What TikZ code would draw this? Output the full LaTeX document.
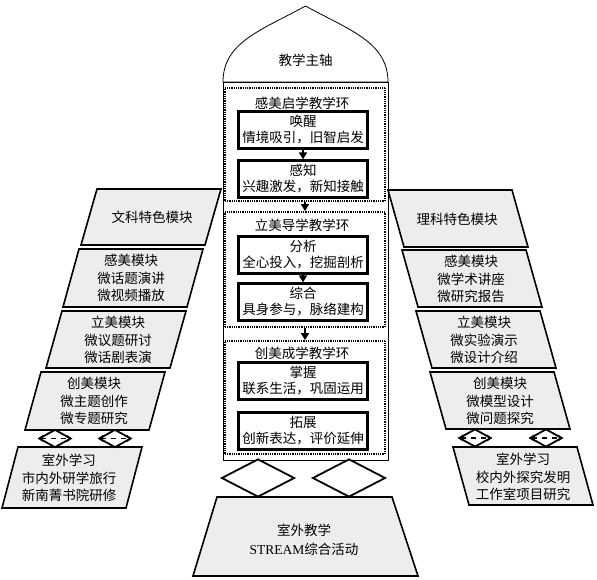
\documentclass[tikz,border=0pt]{standalone}
\usepackage{fontspec}
\setmainfont{Liberation Serif}
\newfontfamily\cjk{Noto Sans CJK SC}
\usetikzlibrary{shapes.geometric,arrows.meta}
\newcommand{\paraL}[3]{\draw[modbox] ({#1-54},#2) -- ({#1+70},#2) -- ({#1+54},#3) -- ({#1-70},#3) -- cycle;}
\newcommand{\paraR}[3]{\draw[modbox] ({#1-70},#2) -- ({#1+54},#2) -- ({#1+70},#3) -- ({#1-54},#3) -- cycle;}
\begin{document}
\begin{tikzpicture}[x=1pt,y=-1pt,
  txt/.style={font=\cjk\fontsize{13.5}{17.5}\selectfont, align=center, inner sep=0pt},
  ctxt/.style={font=\cjk\fontsize{13.5}{16}\selectfont, align=center, inner sep=0pt},
  modbox/.style={draw, line width=1.6pt, fill=black!7, line join=miter},
  cbox/.style={draw, line width=2.2pt, minimum width=129, minimum height=37, inner sep=0pt, ctxt},
  ring/.style={draw, line width=1.8pt, dash pattern=on 0.9pt off 0.9pt, minimum width=160, inner sep=0pt},
  arr/.style={-{Triangle[length=7pt,width=8pt]}, line width=1.6pt},
  dmd/.style={diamond, draw, line width=1.8pt, inner sep=0pt, fill=white},
  darr/.style={{Stealth[length=5pt,width=7pt]}-{Stealth[length=5pt,width=7pt]}, line width=1.5pt, dash pattern=on 5pt off 5pt}
]
\useasboundingbox (0,0) rectangle (597,580);
% tower
\node[draw, line width=0.8pt, minimum width=165, minimum height=378, inner sep=0pt] (tower) at (305.5,271) {};
\draw[line width=0.8pt, fill=white] (223,82) .. controls (223,42) and (262,30) .. (305.5,6) .. controls (349,30) and (388,42) .. (388,82) -- cycle;
\node[txt] (axis) at (305.5,60) {教学主轴};
% rings
\node[ring, minimum height=113] (r1) at (305,144.5) {};
\node[ring, minimum height=115] (r2) at (305,269.5) {};
\node[ring, minimum height=113] (r3) at (305,397.5) {};
\node[txt] (t1) at (302,103) {感美启学教学环};
\node[txt] (t2) at (302,225) {立美导学教学环};
\node[txt] (t3) at (302,353) {创美成学教学环};
\node[cbox] (b1) at (303,130) {唤醒\\情境吸引，旧智启发};
\node[cbox] (b2) at (303,179) {感知\\兴趣激发，新知接触};
\node[cbox] (b3) at (303,255) {分析\\全心投入，挖掘剖析};
\node[cbox] (b4) at (303,302) {综合\\具身参与，脉络建构};
\node[cbox] (b5) at (303,381) {掌握\\联系生活，巩固运用};
\node[cbox] (b6) at (303,431) {拓展\\创新表达，评价延伸};
\draw[arr] (b1.south) -- (b2.north);
\draw[arr] (r1.south) -- (r2.north);
\draw[arr] (b3.south) -- (b4.north);
\draw[arr] (r2.south) -- (r3.north);
% left modules
\paraL{151}{189}{245}
\paraL{133}{249}{307}
\paraL{116}{311}{368}
\paraL{95}{372}{430}
\paraL{72}{447}{508}
\node[txt] (l0) at (152,217) {文科特色模块};
\node[txt] (l1) at (131,278) {感美模块\\微话题演讲\\微视频播放};
\node[txt] (l2) at (118,340) {立美模块\\微议题研讨\\微话剧表演};
\node[txt] (l3) at (94,401) {创美模块\\微主题创作\\微专题研究};
\node[txt] (l4) at (69,478) {室外学习\\市内外研学旅行\\新南菁书院研修};
% right modules
\paraR{458}{190}{247}
\paraR{472}{250}{307}
\paraR{486}{311}{368}
\paraR{500}{372}{429}
\paraR{523}{447}{505}
\node[txt] (q0) at (457,219) {理科特色模块};
\node[txt] (q1) at (471,279) {感美模块\\微学术讲座\\微研究报告};
\node[txt] (q2) at (484,340) {立美模块\\微实验演示\\微设计介绍};
\node[txt] (q3) at (500,401) {创美模块\\微模型设计\\微问题探究};
\node[txt] (q4) at (523,477) {室外学习\\校内外探究发明\\工作室项目研究};
% side diamonds
\node[dmd, minimum width=32, minimum height=18] (ld1) at (55,438.5) {};
\node[dmd, minimum width=32, minimum height=18] (ld2) at (115,438.5) {};
\node[dmd, minimum width=32, minimum height=18] (rd1) at (475,438) {};
\node[dmd, minimum width=32, minimum height=18] (rd2) at (546,438) {};
\draw[darr] (ld1.west) -- (ld1.east);
\draw[darr] (ld2.west) -- (ld2.east);
\draw[darr] (rd1.west) -- (rd1.east);
\draw[darr] (rd2.west) -- (rd2.east);
% bottom
\draw[modbox] (217,497) -- (392,497) -- (418,576) -- (193,576) -- cycle;
\node[txt, font=\cjk\fontsize{13.5}{19}\selectfont] (out) at (304,540) {室外教学\\{\rmfamily STREAM}综合活动};
\node[dmd, minimum width=73, minimum height=38] (bd1) at (258,478) {};
\node[dmd, minimum width=73, minimum height=38] (bd2) at (349,478) {};
\end{tikzpicture}
\end{document}
